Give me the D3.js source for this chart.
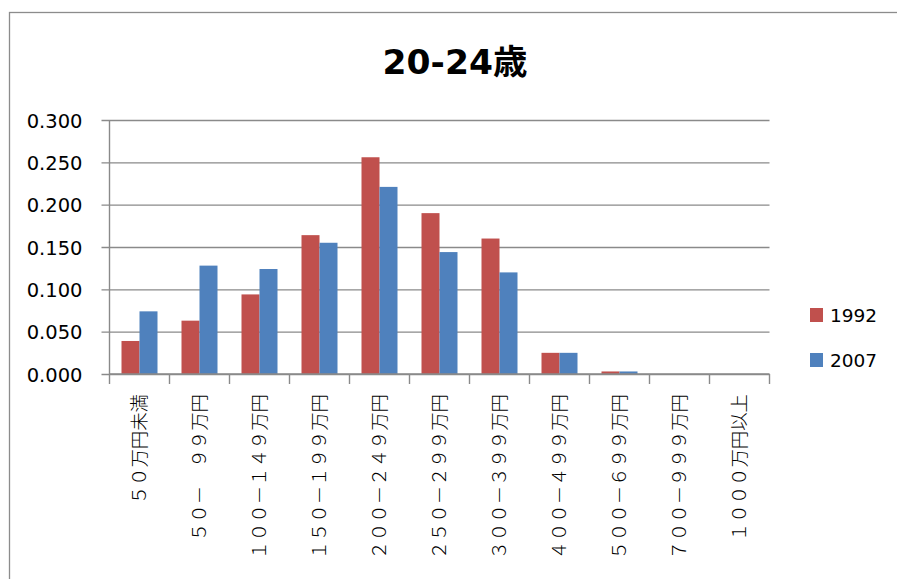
<!DOCTYPE html>
<html>
<head>
<meta charset="utf-8">
<script src="https://cdn.jsdelivr.net/npm/d3@7"></script>
<style>
  html, body { margin: 0; padding: 0; background: #fff; }
  svg { display: block; }
</style>
</head>
<body>
<svg id="chart" width="897" height="579"></svg>
<script>
// Income bracket shares for the 20-24 age group
const categories = [
  "５０万円未満", "５０－　９９万円", "１００－１４９万円", "１５０－１９９万円",
  "２００－２４９万円", "２５０－２９９万円", "３００－３９９万円", "４００－４９９万円",
  "５００－６９９万円", "７００－９９９万円", "１０００万円以上"
];
const seriesNames = ["1992", "2007"];
const values1992 = [0.039, 0.063, 0.094, 0.164, 0.256, 0.190, 0.160, 0.025, 0.003, 0.000, 0.000];
const values2007 = [0.074, 0.128, 0.124, 0.155, 0.221, 0.144, 0.120, 0.025, 0.003, 0.000, 0.000];
const yTicks = [0, 0.05, 0.10, 0.15, 0.20, 0.25, 0.30];
const colors = ["#C0504D", "#4F81BD"];
const title = "20-24歳";

const svg = d3.select("#chart");

// chart frame
svg.append("rect")
  .attr("x", 9.5).attr("y", 12.5)
  .attr("width", 1000).attr("height", 1000)
  .attr("fill", "#fff").attr("stroke", "#8c8c8c").attr("stroke-width", 1.3);

const plot = { left: 109.5, right: 769.5, top: 120, bottom: 374 };

const x = d3.scaleBand().domain(categories).range([plot.left, plot.right]).paddingInner(0).paddingOuter(0);
const inner = d3.scaleBand().domain(seriesNames).range([x.bandwidth() * 0.2, x.bandwidth() * 0.8]);
const y = d3.scaleLinear().domain([0, 0.3]).range([plot.bottom, plot.top]);

// horizontal gridlines with left tick stubs
const yAxis = d3.axisLeft(y).tickValues(yTicks).tickFormat(d3.format(".3f"))
  .tickSize(-(plot.right - plot.left)).tickPadding(0);
const gy = svg.append("g").attr("transform", `translate(${plot.left},0)`).call(yAxis);
gy.select(".domain").remove();
gy.selectAll(".tick line").attr("stroke", "#8a8a8a").attr("stroke-width", 1.4).attr("x1", -8);
gy.selectAll(".tick text")
  .attr("x", -27)
  .attr("dy", "0.36em")
  .attr("fill", "#000")
  .style("font-family", "'DejaVu Sans', Verdana, sans-serif")
  .style("font-size", "19.5px");

// bars
const data = categories.map((c, i) => ({ cat: c, vals: [values1992[i], values2007[i]] }));
const groups = svg.append("g").selectAll("g").data(data).join("g")
  .attr("transform", d => `translate(${x(d.cat)},0)`);
groups.selectAll("rect")
  .data(d => d.vals.map((v, k) => ({ name: seriesNames[k], v, k })))
  .join("rect")
  .attr("x", d => inner(d.name))
  .attr("width", inner.bandwidth())
  .attr("y", d => y(d.v))
  .attr("height", d => y(0) - y(d.v))
  .attr("fill", d => colors[d.k]);

// vertical axis line
svg.append("line")
  .attr("x1", plot.left).attr("x2", plot.left)
  .attr("y1", plot.top).attr("y2", plot.bottom)
  .attr("stroke", "#8a8a8a").attr("stroke-width", 1.4);

// category axis with boundary ticks
const gx = svg.append("g").attr("transform", `translate(0,${plot.bottom})`);
gx.append("line")
  .attr("x1", plot.left).attr("x2", plot.right)
  .attr("stroke", "#8a8a8a").attr("stroke-width", 1.4);
const bounds = categories.map(c => x(c)).concat([plot.right]);
gx.selectAll("line.tk").data(bounds).join("line").attr("class", "tk")
  .attr("x1", d => d).attr("x2", d => d)
  .attr("y1", 0).attr("y2", 10)
  .attr("stroke", "#8a8a8a").attr("stroke-width", 1.4);
gx.selectAll("text").data(categories).join("text")
  .attr("transform", d => `translate(${x(d) + x.bandwidth() / 2},${20}) rotate(-90)`)
  .attr("text-anchor", "end")
  .attr("dy", "0.35em")
  .attr("fill", "#000")
  .style("font-family", "'Noto Sans CJK JP', sans-serif")
  .style("font-weight", "300")
  .style("font-size", "18.4px")
  .text(d => d);

// title
svg.append("text")
  .attr("x", 455).attr("y", 74)
  .attr("text-anchor", "middle")
  .attr("fill", "#000")
  .style("font-family", "'DejaVu Sans', 'Noto Sans CJK JP', sans-serif")
  .style("font-weight", "bold")
  .style("font-size", "34.5px")
  .text(title);

// legend
const legend = svg.append("g").selectAll("g").data(seriesNames).join("g")
  .attr("transform", (d, i) => `translate(810,${308 + i * 45})`);
legend.append("rect").attr("width", 13).attr("height", 14).attr("fill", (d, i) => colors[i]);
legend.append("text")
  .attr("x", 20).attr("y", 7).attr("dy", "0.36em")
  .attr("fill", "#000")
  .style("font-family", "'DejaVu Sans', Verdana, sans-serif")
  .style("font-size", "18.5px")
  .text(d => d);
</script>
</body>
</html>
